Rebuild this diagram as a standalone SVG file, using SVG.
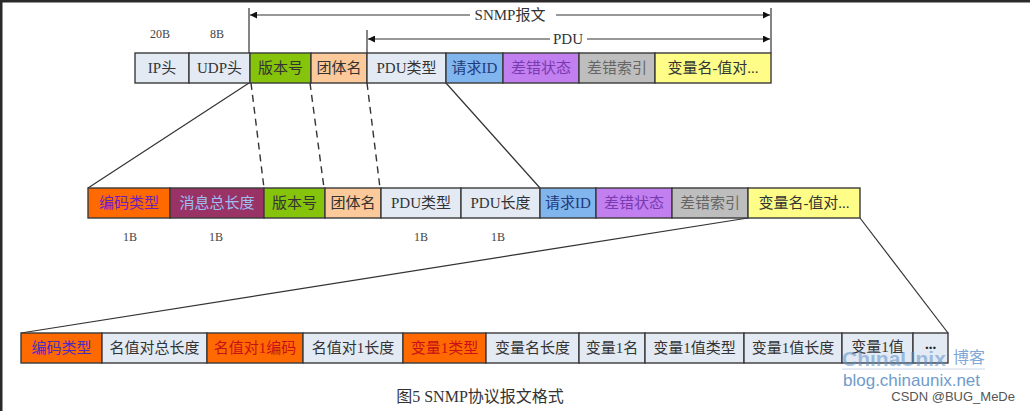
<svg xmlns="http://www.w3.org/2000/svg" width="1030" height="411" viewBox="0 0 1030 411">
<style>
.cell{stroke:#3a3a3a;stroke-width:1.4}
.t{font-family:"Liberation Serif","Noto Sans CJK SC",serif;font-size:15px;text-anchor:middle;fill:#333}
.s{font-family:"Liberation Serif","Noto Sans CJK SC",serif;font-size:12px;text-anchor:middle;fill:#444}
.lt{fill:#E3EAF4}
.grn{fill:#86C40C}
.pch{fill:#FBC99A}
.blu{fill:#80B5EE}
.pur{fill:#C27FF0}
.gry{fill:#BEBEBE}
.yel{fill:#FDFD88}
.org{fill:#FF6A00}
.mar{fill:#993366}
.ln{stroke:#333;stroke-width:1.2;fill:none}
.dash{stroke:#333;stroke-width:1.4;fill:none;stroke-dasharray:7 5}
</style>
<defs>
<marker id="ah" viewBox="0 0 10 10" refX="10" refY="5" markerWidth="9" markerHeight="7" markerUnits="userSpaceOnUse" orient="auto">
<path d="M0,0 L10,5 L0,10 z" fill="#111"/>
</marker>
</defs>
<rect x="0" y="0" width="1030" height="411" fill="#fff"/>
<rect x="0" y="0" width="1030" height="2.5" fill="#2a2a2a"/>
<rect x="0" y="0" width="2.5" height="411" fill="#2a2a2a"/>

<g id="connectors">
<line class="ln" x1="249" y1="8" x2="249" y2="53"/>
<line class="ln" x1="771" y1="8" x2="771" y2="53"/>
<line class="ln" x1="470" y1="15" x2="250" y2="15" marker-end="url(#ah)"/>
<line class="ln" x1="556" y1="15" x2="770" y2="15" marker-end="url(#ah)"/>
<line class="ln" x1="367" y1="30" x2="367" y2="53"/>
<line class="ln" x1="550" y1="39" x2="368" y2="39" marker-end="url(#ah)"/>
<line class="ln" x1="587" y1="39" x2="770" y2="39" marker-end="url(#ah)"/>
<line class="ln" x1="249" y1="83" x2="88" y2="188"/>
<line class="ln" x1="446" y1="83" x2="540" y2="188"/>
<line class="dash" x1="251" y1="83" x2="264" y2="188"/>
<line class="dash" x1="310" y1="83" x2="324" y2="188"/>
<line class="dash" x1="367" y1="83" x2="380" y2="188"/>
<line class="ln" x1="748" y1="218" x2="21" y2="333"/>
<line class="ln" x1="860" y1="218" x2="948" y2="333"/>
</g>

<g id="labels-top">
<text class="t" x="510" y="20">SNMP报文</text>
<text class="t" x="568" y="44">PDU</text>
<text class="s" x="160" y="38">20B</text>
<text class="s" x="217" y="38">8B</text>
</g>

<g id="top-ip"><rect class="cell lt" x="135" y="53" width="54" height="30"/><text class="t" x="162" y="73">IP头</text></g>
<g id="top-udp"><rect class="cell lt" x="189" y="53" width="61" height="30"/><text class="t" x="219.5" y="73">UDP头</text></g>
<g id="top-ver"><rect class="cell grn" x="250" y="53" width="61" height="30"/><text class="t" x="280.5" y="73">版本号</text></g>
<g id="top-comm"><rect class="cell pch" x="311" y="53" width="56" height="30"/><text class="t" x="339" y="73">团体名</text></g>
<g id="top-pdutype"><rect class="cell lt" x="367" y="53" width="79" height="30"/><text class="t" x="406.5" y="73">PDU类型</text></g>
<g id="top-reqid"><rect class="cell blu" x="446" y="53" width="57" height="30"/><text class="t" x="474.5" y="73" style="fill:#1F3A7A">请求ID</text></g>
<g id="top-errstat"><rect class="cell pur" x="503" y="53" width="76" height="30"/><text class="t" x="541" y="73" style="fill:#7A3AB0">差错状态</text></g>
<g id="top-erridx"><rect class="cell gry" x="579" y="53" width="76" height="30"/><text class="t" x="617" y="73" style="fill:#666">差错索引</text></g>
<g id="top-varbind"><rect class="cell yel" x="655" y="53" width="116" height="30"/><text class="t" x="713" y="73">变量名-值对...</text></g>

<g id="mid-enc"><rect class="cell org" x="88" y="188" width="82" height="30"/><text class="t" x="129" y="208" style="fill:#6A1FC0">编码类型</text></g>
<g id="mid-len"><rect class="cell mar" x="170" y="188" width="94" height="30"/><text class="t" x="217" y="208" style="fill:#9DBEF2">消息总长度</text></g>
<g id="mid-ver"><rect class="cell grn" x="264" y="188" width="61" height="30"/><text class="t" x="294.5" y="208">版本号</text></g>
<g id="mid-comm"><rect class="cell pch" x="325" y="188" width="56" height="30"/><text class="t" x="353" y="208">团体名</text></g>
<g id="mid-pdutype"><rect class="cell lt" x="381" y="188" width="80" height="30"/><text class="t" x="421" y="208">PDU类型</text></g>
<g id="mid-pdulen"><rect class="cell lt" x="461" y="188" width="79" height="30"/><text class="t" x="500.5" y="208">PDU长度</text></g>
<g id="mid-reqid"><rect class="cell blu" x="540" y="188" width="56" height="30"/><text class="t" x="568" y="208" style="fill:#1F3A7A">请求ID</text></g>
<g id="mid-errstat"><rect class="cell pur" x="596" y="188" width="76" height="30"/><text class="t" x="634" y="208" style="fill:#7A3AB0">差错状态</text></g>
<g id="mid-erridx"><rect class="cell gry" x="672" y="188" width="76" height="30"/><text class="t" x="710" y="208" style="fill:#666">差错索引</text></g>
<g id="mid-varbind"><rect class="cell yel" x="748" y="188" width="112" height="30"/><text class="t" x="804" y="208">变量名-值对...</text></g>

<g id="labels-mid">
<text class="s" x="130" y="241">1B</text>
<text class="s" x="216" y="241">1B</text>
<text class="s" x="421" y="241">1B</text>
<text class="s" x="498" y="241">1B</text>
</g>

<g id="bot-enc"><rect class="cell org" x="21" y="333" width="81" height="30"/><text class="t" x="61.5" y="353" style="fill:#4B2BC0">编码类型</text></g>
<g id="bot-totlen"><rect class="cell lt" x="102" y="333" width="105" height="30"/><text class="t" x="154.5" y="353">名值对总长度</text></g>
<g id="bot-pair1enc"><rect class="cell org" x="207" y="333" width="96" height="30"/><text class="t" x="255" y="353" style="fill:#C8101A">名值对1编码</text></g>
<g id="bot-pair1len"><rect class="cell lt" x="303" y="333" width="100" height="30"/><text class="t" x="353" y="353">名值对1长度</text></g>
<g id="bot-var1type"><rect class="cell org" x="403" y="333" width="83" height="30"/><text class="t" x="444.5" y="353" style="fill:#C8101A">变量1类型</text></g>
<g id="bot-namelen"><rect class="cell lt" x="486" y="333" width="93" height="30"/><text class="t" x="532.5" y="353">变量名长度</text></g>
<g id="bot-var1name"><rect class="cell lt" x="579" y="333" width="66" height="30"/><text class="t" x="612" y="353">变量1名</text></g>
<g id="bot-valtype"><rect class="cell lt" x="645" y="333" width="99" height="30"/><text class="t" x="694.5" y="353">变量1值类型</text></g>
<g id="bot-vallen"><rect class="cell lt" x="744" y="333" width="98" height="30"/><text class="t" x="793" y="353">变量1值长度</text></g>
<g id="bot-val"><rect class="cell lt" x="842" y="333" width="71" height="30"/><text class="t" x="877.5" y="352">变量1值</text></g>
<g id="bot-more"><rect class="cell lt" x="913" y="333" width="35" height="30"/><text class="t" x="930.5" y="349" style="font-weight:bold;fill:#222">...</text></g>

<g id="caption">
<text x="480" y="402" style="font-family:'Liberation Serif','Noto Sans CJK SC',serif;font-size:16px;text-anchor:middle;fill:#333">图5 SNMP协议报文格式</text>
</g>

<g id="watermark">
<text x="842" y="366" style="font-family:'Liberation Sans',Arial,sans-serif;font-size:21px;font-weight:bold;fill:#5B8FC8;fill-opacity:0.55">ChinaUnix</text>
<text x="953" y="363" style="font-family:'Noto Sans CJK SC',sans-serif;font-size:16px;fill:#7FA8D8">博客</text>
<line x1="842" y1="369" x2="985" y2="369" stroke="#c8d6e8" stroke-width="1"/>
<text x="843" y="386" style="font-family:'Liberation Sans',Arial,sans-serif;font-size:17px;fill:#6F9BCB">blog.chinaunix.net</text>
<text x="1015" y="401" style="font-family:'Liberation Sans',Arial,sans-serif;font-size:13px;text-anchor:end;fill:#555">CSDN @BUG_MeDe</text>
</g>
</svg>
